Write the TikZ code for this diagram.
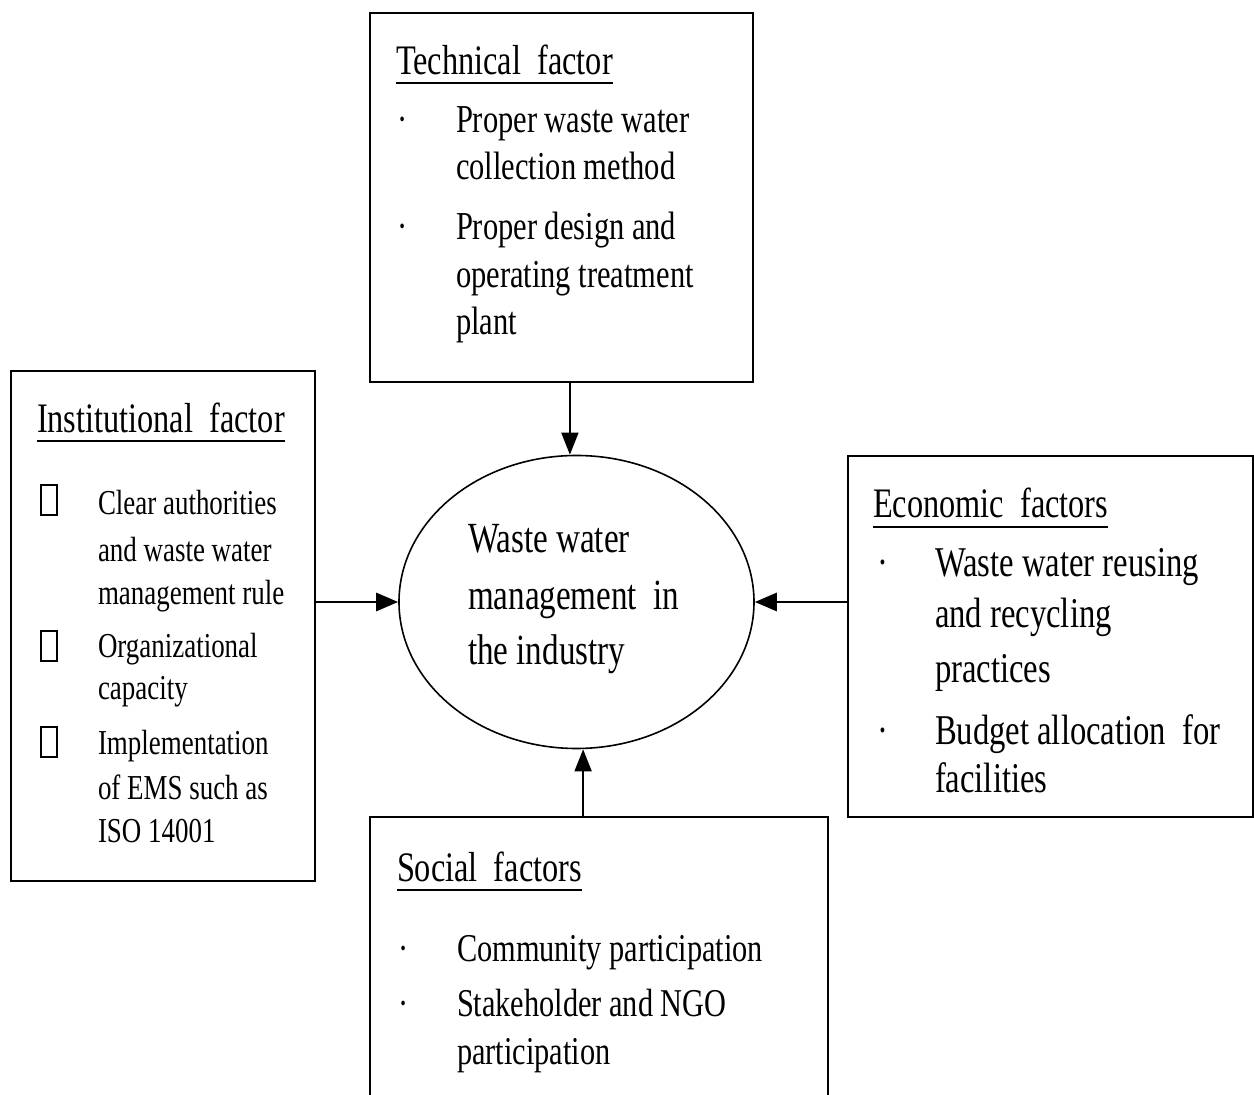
\documentclass[tikz,border=0pt]{standalone}
\usepackage{fontspec}
\setmainfont{Liberation Serif}
\newfontfamily\dfont[FakeStretch=0.77]{Liberation Serif}
\usetikzlibrary{shapes.geometric,arrows.meta,fit}
\newcommand\myfs[1]{\fontsize{#1}{#1}\selectfont}
\tikzset{
 fbox/.style={draw, line width=1pt, inner sep=0pt},
 txt/.style={anchor=base west, inner sep=0pt, outer sep=0pt},
 head/.style={txt, font=\dfont\myfs{21}},
 tt/.style={txt, font=\dfont\myfs{19.8}},
 it/.style={txt, font=\dfont\myfs{17.5}},
 et/.style={txt, font=\dfont\myfs{21.2}},
 st/.style={txt, font=\dfont\myfs{19.7}},
 ct/.style={txt, font=\dfont\myfs{21.5}},
 gbox/.style={draw, line width=0.9pt, minimum width=8pt, minimum height=15pt, inner sep=0pt},
 uline/.style={line width=1pt},
 arr/.style={-{Triangle[length=11pt,width=8.5pt]}, line width=0.8pt},
 arrw/.style={-{Triangle[length=11pt,width=9pt]}, line width=1.4pt},
}
\begin{document}
\begin{tikzpicture}[x=0.5pt,y=-0.5pt]
\useasboundingbox (0,0) rectangle (1254,1095);
\clip (0,0) rectangle (1254,1095);
\fill[white] (0,0) rectangle (1254,1095);

% boxes
\node[fbox, fit={(370,13) (753,382)}] (tech) {};
\node[fbox, fit={(11,371) (315,881)}] (inst) {};
\node[fbox, fit={(848,456) (1253,817)}] (econ) {};
\node[fbox, fit={(370,817) (828,1110)}] (soc) {};
\node[draw, ellipse, line width=0.8pt, minimum width=177.5pt, minimum height=146.5pt, inner sep=0pt] (ell) at (576.5,602) {};

% centre text
\node[ct] (c1) at (468,553) {Waste water};
\node[ct] (c2) at (468,610) {management~~in};
\node[ct] (c3) at (468,665) {the industry};

% technical
\node[head] (th) at (396,75) {Technical~~factor};
\draw[uline] ([yshift=-4pt]th.base west) -- ([yshift=-4pt]th.base east);
\node[tt] (td1) at (397,133) {·};
\node[tt] (t1) at (456,133) {Proper waste water};
\node[tt] (t2) at (456,180) {collection method};
\node[tt] (td2) at (397,240) {·};
\node[tt] (t3) at (456,240) {Proper design and};
\node[tt] (t4) at (456,288) {operating treatment};
\node[tt] (t5) at (456,335) {plant};

% institutional
\node[head] (ih) at (37,433) {Institutional~~factor};
\draw[uline] ([yshift=-4pt]ih.base west) -- ([yshift=-4pt]ih.base east);
\node[gbox] (ib1) at (49,500) {};
\node[it] (i1) at (98,515) {Clear authorities};
\node[it] (i2) at (98,562) {and waste water};
\node[it] (i3) at (98,605) {management rule};
\node[gbox] (ib2) at (49,646) {};
\node[it] (i4) at (98,658) {Organizational};
\node[it] (i5) at (98,700) {capacity};
\node[gbox] (ib3) at (49,742) {};
\node[it] (i6) at (98,755) {Implementation};
\node[it] (i7) at (98,800) {of EMS such as};
\node[it] (i8) at (98,843) {ISO 14001};

% economic
\node[head] (eh) at (873,518) {Economic~~factors};
\draw[uline] ([yshift=-4.3pt]eh.base west) -- ([yshift=-4.3pt]eh.base east);
\node[et] (ed1) at (877,577) {·};
\node[et] (e1) at (935,577) {Waste water reusing};
\node[et] (e2) at (935,628) {and recycling};
\node[et] (e3) at (935,683) {practices};
\node[et] (ed2) at (877,745) {·};
\node[et] (e4) at (935,745) {Budget allocation~~for};
\node[et] (e5) at (935,793) {facilities};

% social
\node[head] (sh) at (397,882) {Social~~factors};
\draw[uline] ([yshift=-4pt]sh.base west) -- ([yshift=-4pt]sh.base east);
\node[st] (sd1) at (398,962) {·};
\node[st] (s1) at (457,962) {Community participation};
\node[st] (sd2) at (398,1017) {·};
\node[st] (s2) at (457,1017) {Stakeholder and NGO};
\node[st] (s3) at (457,1065) {participation};

% arrows
\draw[arr] ([xshift=-3.3pt]tech.south -| ell.north) -- ([xshift=-3.3pt]ell.north);
\draw[arr] ([xshift=3.3pt]soc.north -| ell.south) -- ([xshift=3.3pt]ell.south);
\draw[arrw] (inst.east |- ell.west) -- (ell.west);
\draw[arrw] (econ.west |- ell.east) -- (ell.east);
\end{tikzpicture}
\end{document}
